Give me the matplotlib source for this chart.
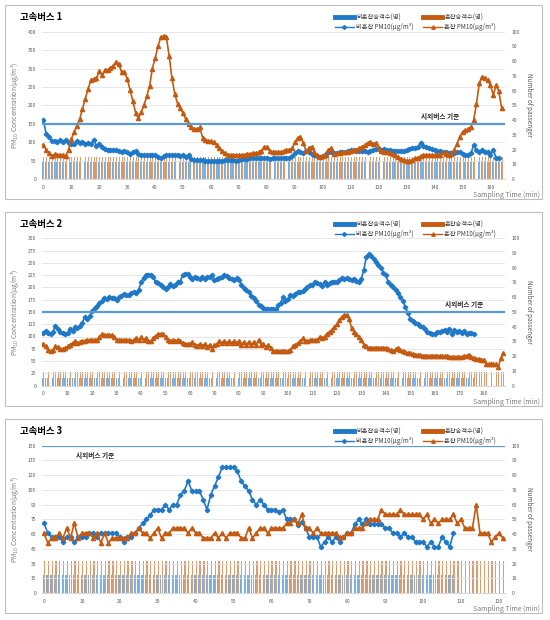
import numpy as np
import matplotlib.pyplot as plt
from matplotlib.lines import Line2D
from matplotlib.patches import Rectangle

plt.rcParams['font.family'] = ['Noto Sans CJK KR', 'DejaVu Sans']

BLUE = '#1f78c8'
ORANGE = '#c55a11'
STD = '#5b9bd5'
GRAY = '#595959'

# 고속버스 1 : PM10 (ug/m3), 1분 간격
bus1_calm = [160, 122, 114, 102, 104, 100, 106, 100, 107, 97,
             96, 95, 103, 97, 100, 95, 97, 95, 107, 90,
             95, 86, 82, 80, 80, 80, 78, 76, 74, 76,
             72, 68, 72, 75, 67, 66, 66, 66, 65, 64,
             65, 60, 58, 62, 64, 66, 66, 66, 65, 63,
             66, 60, 65, 55, 52, 52, 51, 51, 50, 50,
             50, 50, 50, 50, 50, 51, 51, 52, 52, 50,
             52, 55, 54, 55, 56, 56, 57, 58, 56, 57,
             56, 55, 57, 58, 56, 56, 57, 58, 58, 62,
             70, 76, 72, 70, 76, 72, 67, 65, 62, 61,
             63, 67, 72, 74, 70, 70, 72, 72, 74, 76,
             78, 79, 77, 76, 76, 75, 74, 76, 80, 81,
             81, 80, 81, 79, 78, 76, 76, 76, 76, 77,
             80, 82, 84, 85, 88, 97, 90, 88, 85, 82,
             78, 76, 75, 74, 72, 70, 70, 70, 72, 74,
             68, 65, 66, 70, 92, 80, 74, 78, 74, 72,
             66, 79, 58, 56]
bus1_busy = [93, 80, 70, 63, 67, 65, 65, 65, 62, 80,
             108, 128, 145, 163, 190, 218, 245, 268, 272, 273,
             293, 282, 295, 296, 302, 308, 318, 312, 290, 290,
             272, 242, 212, 180, 165, 182, 200, 225, 252, 300,
             328, 360, 385, 388, 386, 335, 275, 232, 205, 192,
             178, 162, 150, 140, 135, 135, 140, 112, 106, 104,
             102, 100, 92, 85, 75, 70, 66, 65, 65, 65,
             65, 65, 66, 68, 68, 70, 70, 72, 76, 86,
             86, 76, 72, 72, 74, 74, 75, 78, 80, 83,
             100, 112, 115, 98, 76, 84, 88, 72, 64, 61,
             62, 66, 78, 85, 68, 70, 70, 72, 72, 74,
             76, 78, 80, 84, 88, 92, 98, 100, 96, 98,
             84, 76, 74, 72, 70, 68, 64, 60, 55, 52,
             50, 49, 52, 56, 58, 62, 65, 65, 65, 64,
             65, 65, 66, 72, 68, 66, 68, 80, 95, 115,
             128, 132, 135, 142, 160, 205, 260, 278, 274, 268,
             255, 228, 255, 238, 192]
bus1_calm_pax = [12] * 165
bus1_busy_pax = [15] * 165

# 고속버스 2
bus2_calm = [107, 112, 108, 105, 110, 122, 115, 110, 107, 105,
             108, 115, 112, 120, 118, 122, 128, 140, 135, 142,
             152, 158, 162, 168, 172, 178, 176, 180, 178, 178,
             175, 180, 183, 186, 185, 185, 189, 190, 188, 195,
             210, 220, 225, 226, 226, 222, 210, 208, 204, 200,
             197, 200, 207, 203, 205, 210, 212, 225, 227, 228,
             222, 218, 222, 220, 218, 222, 218, 222, 222, 225,
             215, 218, 220, 222, 226, 223, 220, 218, 215, 220,
             215, 205, 198, 195, 190, 183, 178, 172, 165, 162,
             158, 155, 155, 155, 155, 155, 164, 168, 180, 172,
             176, 185, 183, 187, 190, 190, 192, 197, 200, 205,
             205, 212, 208, 207, 203, 210, 205, 208, 212, 212,
             212, 215, 220, 218, 220, 218, 215, 218, 213, 212,
             218, 235, 262, 268, 264, 258, 252, 245, 240, 230,
             225, 210, 205, 200, 195, 188, 180, 172, 160, 148,
             136, 132, 128, 125, 122, 120, 115, 110, 107, 106,
             106, 110, 110, 112, 113, 110, 115, 106, 113, 110,
             112, 108, 111, 106, 108, 108, 105]
bus2_busy = [85, 80, 72, 70, 72, 80, 78, 75, 75, 77,
             80, 83, 87, 90, 87, 89, 91, 90, 93, 93,
             93, 93, 93, 98, 105, 103, 103, 103, 103, 100,
             93, 93, 93, 93, 93, 93, 90, 93, 97, 93,
             98, 93, 97, 91, 90, 97, 102, 105, 105, 105,
             100, 93, 90, 93, 90, 93, 90, 87, 85, 85,
             85, 89, 83, 80, 85, 80, 85, 78, 83, 75,
             82, 85, 90, 87, 91, 87, 90, 87, 90, 87,
             91, 83, 89, 83, 89, 83, 89, 83, 93, 83,
             85, 78, 83, 77, 70, 70, 70, 70, 70, 70,
             70, 73, 80, 83, 86, 90, 96, 90, 90, 93,
             93, 93, 93, 100, 96, 100, 106, 110, 114, 120,
             125, 134, 140, 144, 144, 135, 118, 110, 105, 100,
             93, 83, 80, 77, 77, 77, 77, 77, 77, 77,
             77, 74, 72, 70, 74, 77, 72, 70, 68, 66,
             66, 65, 63, 63, 62, 61, 61, 61, 61, 61,
             61, 61, 60, 60, 60, 60, 59, 58, 58, 58,
             58, 58, 60, 60, 63, 58, 56, 54, 54, 53,
             53, 45, 43, 43, 43, 43, 38, 56, 66]
bus2_calm_pax = [5] * 177
bus2_busy_pax = [9] * 189

# 고속버스 3
bus3_calm = [71, 61, 57, 57, 57, 52, 57, 57, 52, 57,
             57, 57, 61, 61, 57, 61, 61, 61, 61, 61,
             57, 52, 57, 57, 61, 66, 71, 75, 79, 85,
             85, 85, 90, 85, 90, 90, 100, 104, 114, 104,
             104, 104, 95, 85, 100, 109, 118, 128, 128, 128,
             128, 124, 114, 109, 104, 95, 90, 95, 90, 85,
             85, 85, 82, 85, 75, 75, 75, 69, 72, 66,
             57, 57, 57, 47, 52, 57, 52, 57, 52, 57,
             61, 61, 70, 75, 70, 75, 70, 70, 70, 70,
             66, 66, 61, 61, 57, 61, 57, 57, 52, 52,
             52, 47, 52, 47, 47, 57, 52, 47, 61]
bus3_busy = [61, 51, 56, 56, 61, 56, 66, 56, 71, 56,
             61, 61, 61, 56, 61, 51, 61, 51, 56, 56,
             56, 56, 56, 61, 61, 66, 61, 61, 56, 61,
             66, 56, 61, 61, 66, 66, 66, 66, 61, 66,
             61, 61, 56, 56, 56, 61, 56, 61, 56, 61,
             61, 61, 56, 56, 66, 56, 61, 66, 66, 61,
             66, 66, 66, 66, 71, 71, 75, 71, 80, 66,
             66, 61, 66, 61, 61, 61, 61, 61, 57, 57,
             61, 61, 66, 66, 66, 71, 75, 75, 75, 85,
             80, 80, 80, 80, 85, 80, 80, 80, 80, 80,
             75, 80, 71, 75, 71, 75, 75, 75, 80, 71,
             75, 66, 66, 66, 90, 61, 61, 61, 52, 57,
             61, 56]
bus3_calm_pax = [12] * 109
bus3_busy_pax = [22] * 122

panels = [
    ('고속버스 1', bus1_calm, bus1_busy, bus1_calm_pax, bus1_busy_pax,
     5, 31.7, 400, 50, 165.2, 160, (142, 150), 'above'),
    ('고속버스 2', bus2_calm, bus2_busy, bus2_calm_pax, bus2_busy_pax,
     212, 238.3, 300, 25, 188.7, 180, (172, 150), 'above'),
    ('고속버스 3', bus3_calm, bus3_busy, bus3_calm_pax, bus3_busy_pax,
     419, 445.7, 150, 15, 121.6, 120, (8.5, 150), 'below'),
]

W, H = 550, 620
fig = plt.figure(figsize=(5.5, 6.2), dpi=100)

for (title, calm, busy, calm_pax, busy_pax, box_top, ax_top, ymax, ystep,
     xmax, xtick_max, std_pos, std_side) in panels:
    ax_bot = ax_top + 147.3
    # panel frame
    fig.add_artist(Rectangle((5 / W, 1 - (box_top + 194) / H), 537 / W, 194 / H,
                             transform=fig.transFigure, fill=False,
                             ec='#bfbfbf', lw=0.8))
    ax = fig.add_axes([41.7 / W, 1 - ax_bot / H, 463.3 / W, 147.3 / H])
    ax2 = ax.twinx()
    ax.set_zorder(ax2.get_zorder() + 1)
    ax.patch.set_visible(False)

    xc = np.arange(len(calm_pax))
    xb = np.arange(len(busy_pax))
    ax2.bar(xc - 0.18, calm_pax, width=0.34, color=BLUE, lw=0, alpha=0.6)
    ax2.bar(xb + 0.18, busy_pax, width=0.34, color=ORANGE, lw=0, alpha=0.6)
    ax2.set_ylim(0, 100)
    ax2.set_yticks(range(0, 101, 10))

    ax.plot(np.arange(len(calm)), calm, color=BLUE, lw=1.2, marker='D', ms=2.3)
    ax.plot(np.arange(len(busy)), busy, color=ORANGE, lw=1.2, marker='^', ms=3)
    ax.axhline(150, color=STD, lw=1.6)
    if std_side == 'above':
        ax.text(std_pos[0], std_pos[1] + ymax * 0.025, '시외버스 기준', ha='center',
                va='bottom', fontsize=4.8, weight='bold', color='#262626')
    else:
        ax.text(std_pos[0], std_pos[1] - ymax * 0.04, '시외버스 기준', ha='left',
                va='top', fontsize=4.8, weight='bold', color='#262626')

    ax.set_ylim(0, ymax)
    ax.set_yticks(np.arange(0, ymax + 1, ystep))
    ax.set_xlim(-0.6, xmax)
    ax.set_xticks(range(0, xtick_max + 1, 10))
    ax.grid(axis='y', color='#e3e3e3', lw=0.6)
    ax.set_axisbelow(True)

    for a in (ax, ax2):
        for s in a.spines.values():
            s.set_visible(False)
        a.tick_params(length=0, labelsize=3.6, colors=GRAY)
    ax.tick_params(axis='x', pad=4)
    ax.tick_params(axis='y', pad=4)
    ax2.tick_params(axis='y', pad=5)
    ax.spines['bottom'].set_visible(True)
    ax.spines['bottom'].set_color('#d9d9d9')

    ax.set_ylabel('PM$_{10}$ Concentration(μg/m³)', fontsize=4.8, color='#7f7f7f',
                  labelpad=5)
    ax2.set_ylabel('Number of passenger', fontsize=4.6, color=GRAY, rotation=270,
                   labelpad=9)

    fig.text(20 / W, 1 - (box_top + 12) / H, title, fontsize=6.8, weight='bold',
             va='center', ha='left')
    fig.text(540 / W, 1 - (ax_bot + 16) / H, 'Sampling Time (min)', fontsize=5,
             color='#7f7f7f', ha='right', va='center')

    handles = [Line2D([], [], color=BLUE, lw=3.5),
               Line2D([], [], color=BLUE, lw=1, marker='D', ms=2),
               Line2D([], [], color=ORANGE, lw=3.5),
               Line2D([], [], color=ORANGE, lw=1, marker='^', ms=2.5)]
    labels = ['비혼잡승객수(명)', '비혼잡 PM10(μg/m³)',
              '혼잡승객수(명)', '혼잡 PM10(μg/m³)']
    fig.legend(handles, labels, loc='upper right', ncol=2, frameon=False,
               fontsize=4.5, bbox_to_anchor=(502 / W, 1 - (box_top + 3) / H),
               handlelength=3, columnspacing=1.5, labelspacing=0.25,
               handletextpad=0.4, labelcolor='#404040')

fig.savefig('out.png', dpi=100)
